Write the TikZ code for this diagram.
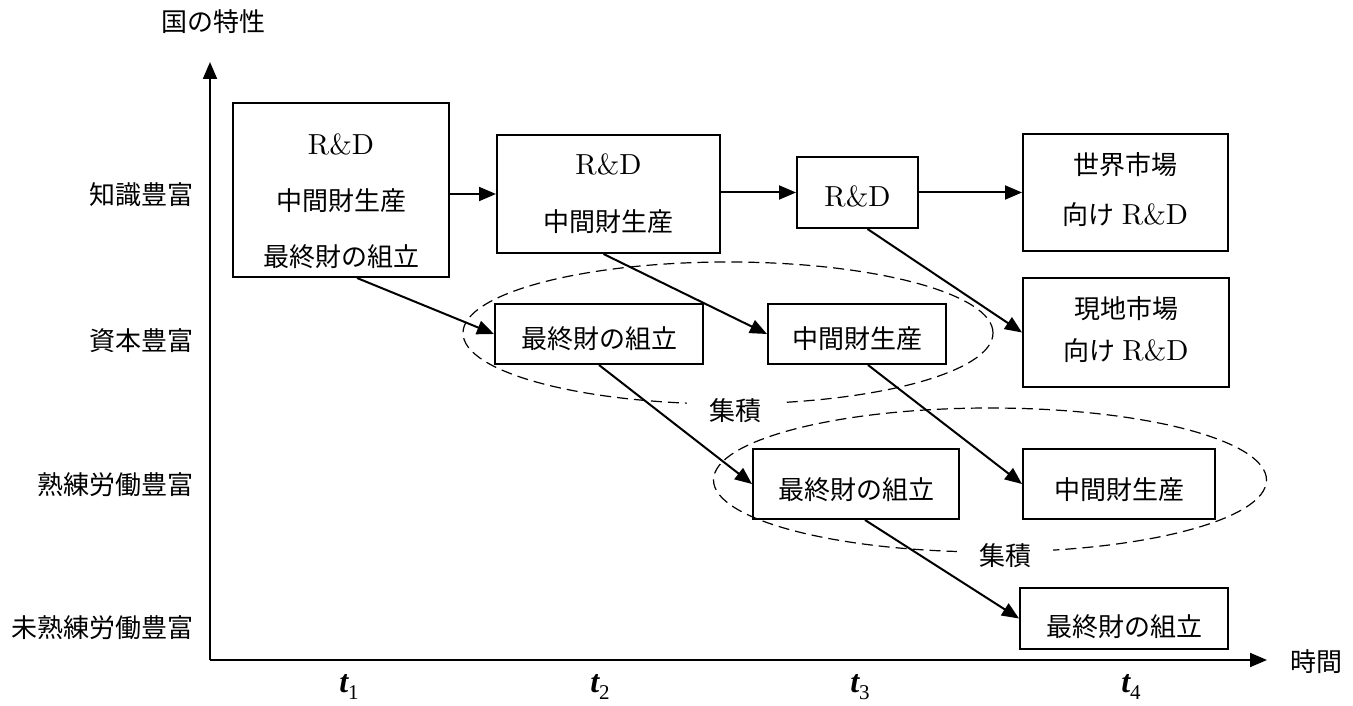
\documentclass[tikz,border=0pt]{standalone}
\usepackage{fontspec}
\newfontfamily\jp{Noto Sans CJK JP}
\newfontfamily\tms{Liberation Serif}
\newfontfamily\lmten{lmroman10-regular.otf}
\usetikzlibrary{arrows.meta,shapes.geometric}
\newcommand\RDx{{\lmten\fontsize{29}{28}\selectfont R\&D}}
\newcommand\tlab[1]{{\tms\fontsize{32}{32}\selectfont\bfseries\itshape t}\raisebox{-7pt}{\tms\fontsize{21}{21}\selectfont #1}}
\begin{document}
\begin{tikzpicture}[x=1pt,y=-1pt,
  box/.style={draw, line width=2pt, inner sep=0pt},
  txt/.style={inner sep=0pt, align=center},
  lab/.style={inner sep=0pt, font={\jp\fontsize{26}{26}\selectfont}},
  conn/.style={line width=2pt, -{Triangle[length=17pt,width=14pt]}},
  axisline/.style={line width=2pt, -{Triangle[length=17pt,width=14pt]}},
  agg/.style={draw, ellipse, line width=1.2pt, dash pattern=on 11pt off 6pt, inner sep=0pt},
  agglab/.style={fill=white, inner xsep=22pt, inner ysep=2pt, font={\jp\fontsize{26}{26}\selectfont}}]
\useasboundingbox (0,0) rectangle (1353,706);

% axes
\coordinate (O) at (210,660);
\coordinate (Ytop) at (210,62);
\coordinate (Xend) at (1267,660);
\draw[axisline] (O) -- (Ytop);
\draw[axisline] (O) -- (Xend);
\node[lab] (ylab) at (213,22) {国の特性};
\node[lab] (xlab) at (1316,662) {時間};

% row labels
\node[lab, anchor=east] (L1) at (194,195) {知識豊富};
\node[lab, anchor=east] (L2) at (194,341) {資本豊富};
\node[lab, anchor=east] (L3) at (194,485) {熟練労働豊富};
\node[lab, anchor=east] (L4) at (194,628) {未熟練労働豊富};

% time labels
\node[inner sep=0pt] (T1) at (349,687) {\tlab{1}};
\node[inner sep=0pt] (T2) at (600,687) {\tlab{2}};
\node[inner sep=0pt] (T3) at (860,687) {\tlab{3}};
\node[inner sep=0pt] (T4) at (1131,687) {\tlab{4}};

% agglomeration ellipses
\node[agg, minimum width=530pt, minimum height=142pt] (E1) at (728,333) {};
\node[agg, minimum width=553pt, minimum height=144pt] (E2) at (990,480) {};
\node[agglab] (A1) at (735,411) {集積};
\node[agglab] (A2) at (1005,556) {集積};

% boxes
\node[box, minimum width=216pt, minimum height=174pt] (B1) at (341,190) {};
\node[box, minimum width=223pt, minimum height=118pt] (B2) at (608.5,194) {};
\node[box, minimum width=121pt, minimum height=71pt] (B3) at (857.5,192.5) {};
\node[box, minimum width=205pt, minimum height=117pt] (B4) at (1125.5,192.5) {};
\node[box, minimum width=206pt, minimum height=109pt] (B5) at (1126,332.5) {};
\node[box, minimum width=208pt, minimum height=60pt] (B6) at (599,334) {};
\node[box, minimum width=178pt, minimum height=60pt] (B7) at (857,334) {};
\node[box, minimum width=206pt, minimum height=70pt] (B8) at (856,484) {};
\node[box, minimum width=192pt, minimum height=70pt] (B9) at (1119,484) {};
\node[box, minimum width=208pt, minimum height=61pt] (B10) at (1124,618.5) {};

% box texts
\node[txt, font={\jp\fontsize{26}{56}\selectfont}] (B1t) at (341,201) {\RDx\\中間財生産\\最終財の組立};
\node[txt, font={\jp\fontsize{26}{57}\selectfont}] (B2t) at (608.5,194) {\RDx\\中間財生産};
\node[txt, font={\jp\fontsize{26}{26}\selectfont}] (B3t) at (857.5,196) {\RDx};
\node[txt, font={\jp\fontsize{26}{50}\selectfont}] (B4t) at (1125.5,190) {世界市場\\向け\hspace{7pt}\RDx};
\node[txt, font={\jp\fontsize{26}{42}\selectfont}] (B5t) at (1126,330) {現地市場\\向け\hspace{7pt}\RDx};
\node[txt, font={\jp\fontsize{26}{26}\selectfont}] (B6t) at (599,339) {最終財の組立};
\node[txt, font={\jp\fontsize{26}{26}\selectfont}] (B7t) at (857,339) {中間財生産};
\node[txt, font={\jp\fontsize{26}{26}\selectfont}] (B8t) at (856,490) {最終財の組立};
\node[txt, font={\jp\fontsize{26}{26}\selectfont}] (B9t) at (1119,490) {中間財生産};
\node[txt, font={\jp\fontsize{26}{26}\selectfont}] (B10t) at (1124,627) {最終財の組立};

% connectors
\draw[conn] ([yshift=-4pt]B1.east) -- (B2.west);
\draw[conn] (B2.east |- B3.west) -- (B3.west);
\draw[conn] (B3.east) -- (B4.west |- B3.east);
\draw[conn] ([xshift=16pt]B1.south) -- (B6.west);
\draw[conn] ([xshift=-5pt]B2.south) -- (B7.west);
\draw[conn] ([xshift=10pt]B3.south) -- (B5.west);
\draw[conn] (B6.south) -- (B8.west);
\draw[conn] ([xshift=11pt]B7.south) -- (B9.west);
\draw[conn] ([xshift=9pt]B8.south) -- (B10.west);
\end{tikzpicture}
\end{document}
